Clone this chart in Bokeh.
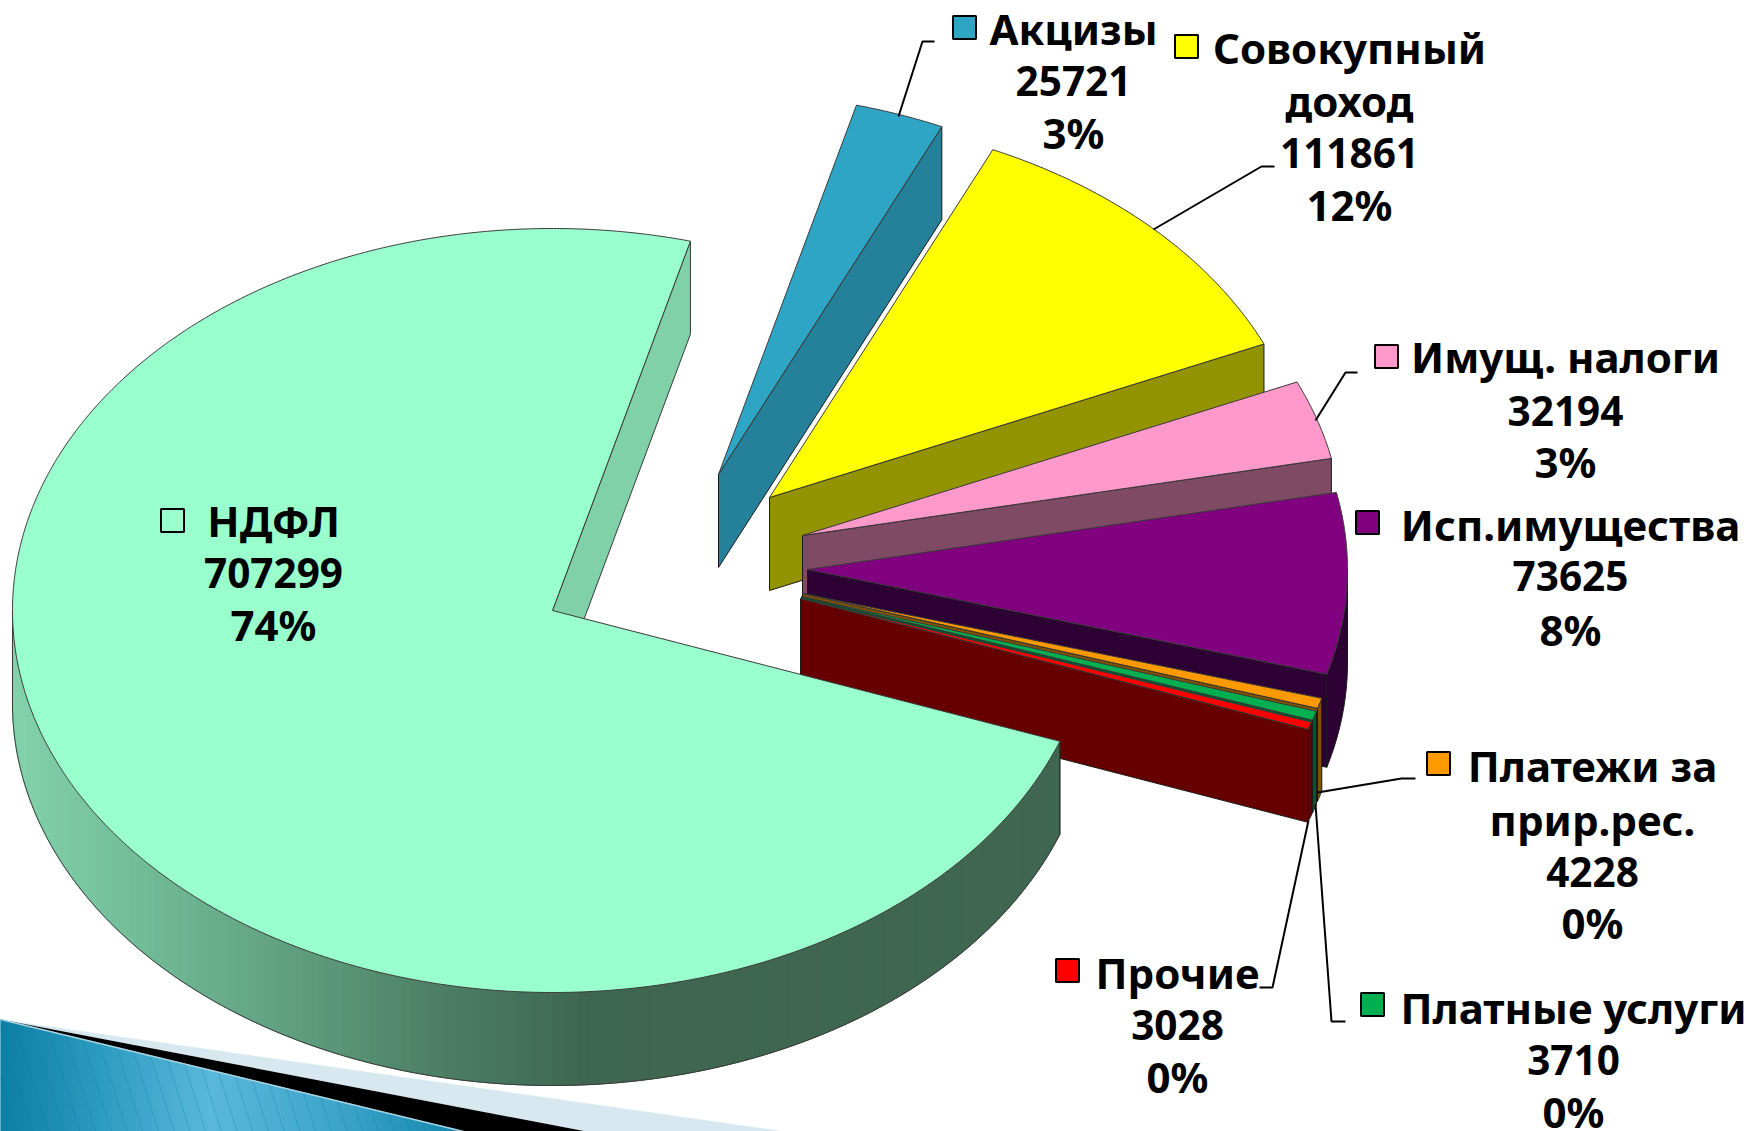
import numpy as np
from bokeh.plotting import figure
from bokeh.models import Range1d
from bokeh.core.properties import value
from bokeh.embed import file_html
from bokeh.resources import INLINE

# ---------- data ----------
categories = ["НДФЛ", "Акцизы", "Совокупный доход", "Имущ. налоги", "Исп.имущества",
              "Платежи за прир.рес.", "Платные услуги", "Прочие"]
values = [707299, 25721, 111861, 32194, 73625, 4228, 3710, 3028]
percent_labels = ["74%", "3%", "12%", "3%", "8%", "0%", "0%", "0%"]
name_lines = [["НДФЛ"], ["Акцизы"], ["Совокупный", "доход"], ["Имущ. налоги"], ["Исп.имущества"],
              ["Платежи за", "прир.рес."], ["Платные услуги"], ["Прочие"]]

# ---------- styles ----------
top_colors = ["#99FFCC", "#2EA5C4", "#FFFF00", "#FF99CC", "#800080", "#FF9900", "#00B050", "#FF0000"]
wall_colors = ["#80D0A8", "#25809A", "#939300", "#7F4A64", "#2D0033", "#7F5200", "#005A2C", "#660000"]

# ---------- layout (screen pixels of the 3D projection) ----------
START_T = 75.2
RX = 540.0
RY = 382.0
DEPTH = 93.0
apex_x = [552, 718, 769, 802, 807, 802, 801, 800]
apex_y = [610, 474, 497, 535, 569, 593, 596, 598]

label_x = [273, 1073, 1349, 1565, 1570, 1592, 1573, 1177]
label_y = [[520, 572, 624], [28, 80, 132], [47, 100, 152, 204], [356, 410, 461], [524, 575, 629],
           [765, 819, 871, 922], [1007, 1059, 1111], [972, 1024, 1076]]
key_x = [172, 964, 1186, 1386, 1367, 1438, 1372, 1067]
key_y = [520, 27, 46, 356, 522, 763, 1004, 970]
leaders = [None,
           ([898, 922, 934], [116, 41, 41]),
           ([1153, 1261, 1274], [229, 166, 166]),
           ([1315, 1345, 1357], [420, 372, 372]),
           None,
           ([1317, 1401, 1415], [792, 778, 778]),
           ([1315, 1331, 1345], [804, 1021, 1021]),
           ([1308, 1272, 1259], [820, 987, 987])]

FONT = "Noto Sans"
NAME_SIZE = "42px"
NUMBER_SIZE = "40.5px"
EDGE = "#3a3a3a"

p = figure(width=1750, height=1131, x_range=Range1d(0, 1750), y_range=Range1d(1131, 0),
           output_backend="svg", toolbar_location=None, min_border=0,
           background_fill_color="white", border_fill_color="white", outline_line_color=None)
p.axis.visible = False
p.grid.visible = False

# ---------- slide decoration, bottom left ----------
p.patch([0, 784, 586], [1019, 1131, 1131], fill_color="#D7E8F0", line_color=None)
p.patch([0, 586, 463], [1019, 1131, 1131], fill_color="#000000", line_color=None)

def mix(stops, x):
    xs = [s[0] for s in stops]
    rgb = [np.interp(x, xs, [int(s[1][i:i + 2], 16) for s in stops]) for i in (1, 3, 5)]
    return "#%02x%02x%02x" % tuple(int(round(c)) for c in rgb)

blue_stops = [(0, "#0B7EA3"), (100, "#2C9BC0"), (210, "#5AB8DA"), (330, "#3FA6CB"), (463, "#1488AD")]
edges = np.arange(0, 464, 4.0)
hyp = lambda x: 1019 + x * 112.0 / 463.0
p.patches([[a, b, b, a] for a, b in zip(edges[:-1], edges[1:])],
          [[hyp(a), hyp(b), 1131, 1131] for a, b in zip(edges[:-1], edges[1:])],
          fill_color=[mix(blue_stops, a + 2) for a in edges[:-1]],
          line_color=[mix(blue_stops, a + 2) for a in edges[:-1]], line_width=1)
stripes = np.arange(-20, 460, 17.0)
p.multi_line([[x, x + (1131 - hyp(x)) / 3.2] for x in stripes],
             [[hyp(x), 1131] for x in stripes], line_color="#0B7EA3", line_alpha=0.3, line_width=1)
p.line([0, 463], [1019, 1131], line_color="#A9D3E2", line_width=1.5)

# ---------- pie ----------
total = float(sum(values))
sweep = [v / total * 360.0 for v in values]

def pt(i, t):
    r = np.radians(t)
    return apex_x[i] + RX * np.cos(r), apex_y[i] - RY * np.sin(r)

def face(i, t0, t1):
    ts = np.linspace(t0, t1, max(3, int(abs(t1 - t0) * 3)))
    ex, ey = pt(i, ts)
    return [apex_x[i], *ex], [apex_y[i], *ey]

# clockwise slices, back to front
t = START_T
for i in range(1, len(values)):
    t_hi, t_lo = t, t - sweep[i]
    t = t_lo
    ex, ey = pt(i, t_lo)
    ax, ay = apex_x[i], apex_y[i]
    # wall along the clockwise end of the slice
    p.patch([ax, ex, ex, ax], [ay, ey, ey + DEPTH, ay + DEPTH],
            fill_color=wall_colors[i], line_color="#1a1a1a", line_width=1)
    # outer rim, the part facing the viewer
    if t_lo < 0:
        ts = np.linspace(min(t_hi, 0), t_lo, 40)
        rx_, ry_ = pt(i, ts)
        p.patch([*rx_, *rx_[::-1]], [*ry_, *(ry_[::-1] + DEPTH)],
                fill_color=wall_colors[i], line_color="#1a1a1a", line_width=1)
    fx, fy = face(i, t_hi, t_lo)
    p.patch(fx, fy, fill_color=top_colors[i], line_color=EDGE, line_width=1)

# main slice: inner wall, shaded rim, top
ex, ey = pt(0, START_T)
p.patch([apex_x[0], ex, ex, apex_x[0]], [apex_y[0], ey, ey + DEPTH, apex_y[0] + DEPTH],
        fill_color=wall_colors[0], line_color=EDGE, line_width=1)

rim_stops = [(12, "#82D2AB"), (157, "#70B895"), (288, "#5F9F80"), (418, "#4F8268"),
             (523, "#43705A"), (580, "#3F6650"), (1060, "#3F6650")]
t_end = START_T + sweep[0]
rim_t = np.linspace(180, t_end, 170)
rim_x, rim_y = pt(0, rim_t)
p.patches([[rim_x[k], rim_x[k + 1], rim_x[k + 1], rim_x[k]] for k in range(len(rim_t) - 1)],
          [[rim_y[k], rim_y[k + 1], rim_y[k + 1] + DEPTH, rim_y[k] + DEPTH] for k in range(len(rim_t) - 1)],
          fill_color=[mix(rim_stops, rim_x[k]) for k in range(len(rim_t) - 1)],
          line_color=[mix(rim_stops, rim_x[k]) for k in range(len(rim_t) - 1)], line_width=1)
p.line(rim_x, rim_y + DEPTH, line_color=EDGE, line_width=1)
p.line([rim_x[0], rim_x[0]], [rim_y[0], rim_y[0] + DEPTH], line_color=EDGE, line_width=1)
p.line([rim_x[-1], rim_x[-1]], [rim_y[-1], rim_y[-1] + DEPTH], line_color="#1a1a1a", line_width=1)

fx, fy = face(0, START_T, t_end)
p.patch(fx, fy, fill_color=top_colors[0], line_color=EDGE, line_width=1)

# ---------- leaders ----------
for leader in leaders:
    if leader:
        p.line(leader[0], leader[1], line_color="black", line_width=2)

# ---------- legend keys ----------
p.scatter(key_x, key_y, marker="square", size=23, fill_color=top_colors,
          line_color="black", line_width=2)

# ---------- labels ----------
for i in range(len(values)):
    rows = [*name_lines[i], str(values[i]), percent_labels[i]]
    sizes = [NAME_SIZE] * len(name_lines[i]) + [NUMBER_SIZE, NAME_SIZE]
    for row, y, size in zip(rows, label_y[i], sizes):
        p.text([label_x[i]], [y], text=[row], text_align="center",
               text_baseline="middle", text_color="black", text_font=value(FONT),
               text_font_style="bold", text_font_size=value(size))

open("out.html", "w").write(file_html(p, INLINE))
